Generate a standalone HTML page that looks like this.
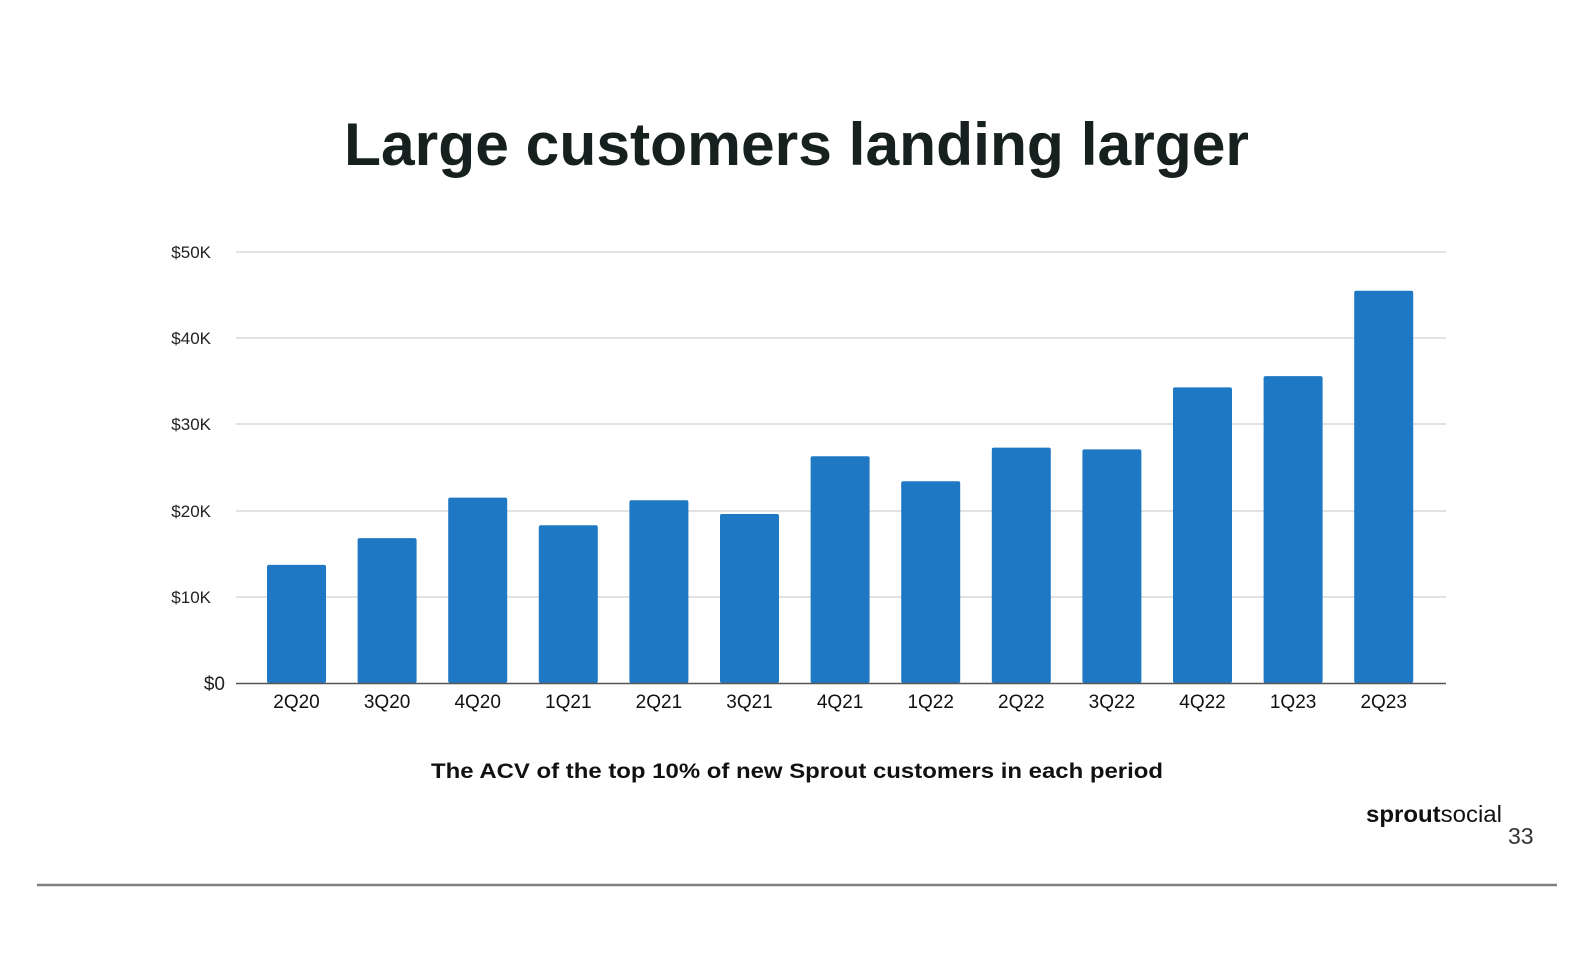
<!DOCTYPE html>
<html><head><meta charset="utf-8"><style>
html,body{margin:0;padding:0;background:#fff;}
svg{display:block;font-family:"Liberation Sans",sans-serif;}
</style></head><body>
<svg width="1594" height="976" viewBox="0 0 1594 976" xmlns="http://www.w3.org/2000/svg">
<text x="344" y="165" font-size="60" font-weight="bold" fill="#16211f" textLength="905" lengthAdjust="spacingAndGlyphs">Large customers landing larger</text>
<g stroke="#d0d0d0" stroke-width="1.2">
<line x1="236" y1="252" x2="1446" y2="252"/>
<line x1="236" y1="338" x2="1446" y2="338"/>
<line x1="236" y1="424" x2="1446" y2="424"/>
<line x1="236" y1="511" x2="1446" y2="511"/>
<line x1="236" y1="597" x2="1446" y2="597"/>
</g>
<g font-size="17" fill="#222" text-anchor="end">
<text x="211" y="258">$50K</text>
<text x="211" y="344">$40K</text>
<text x="211" y="430">$30K</text>
<text x="211" y="517">$20K</text>
<text x="211" y="603">$10K</text>
<text x="225" y="690" font-size="19">$0</text>
</g>
<g fill="#1f78c4" id="bars"></g>
<line x1="236" y1="683.5" x2="1446" y2="683.5" stroke="#555" stroke-width="1.5"/>
<g font-size="19" fill="#111" text-anchor="middle" id="xl"></g>
<text x="431" y="778" font-size="21" font-weight="bold" fill="#111" textLength="732" lengthAdjust="spacingAndGlyphs">The ACV of the top 10% of new Sprout customers in each period</text>
<text x="1366" y="822" font-size="23" fill="#111" textLength="136" lengthAdjust="spacingAndGlyphs"><tspan font-weight="bold">sprout</tspan><tspan>social</tspan></text>
<text x="1508" y="844" font-size="23" fill="#333">33</text>
<line x1="37" y1="885" x2="1557" y2="885" stroke="#808080" stroke-width="2.5"/>
<script>
var v=[13.7,16.8,21.5,18.3,21.2,19.6,26.3,23.4,27.3,27.1,34.3,35.6,45.5];
var l=["2Q20","3Q20","4Q20","1Q21","2Q21","3Q21","4Q21","1Q22","2Q22","3Q22","4Q22","1Q23","2Q23"];
var ns="http://www.w3.org/2000/svg",b=document.getElementById("bars"),x=document.getElementById("xl");
for(var i=0;i<13;i++){var c=296.5+i*90.6,h=v[i]*8.62;
var r=document.createElementNS(ns,"rect");r.setAttribute("x",c-29.5);r.setAttribute("y",683-h);r.setAttribute("width",59);r.setAttribute("height",h);r.setAttribute("rx",2);b.appendChild(r);
var t=document.createElementNS(ns,"text");t.setAttribute("x",c);t.setAttribute("y",708);t.textContent=l[i];x.appendChild(t);}
</script>
</svg>
</body></html>
